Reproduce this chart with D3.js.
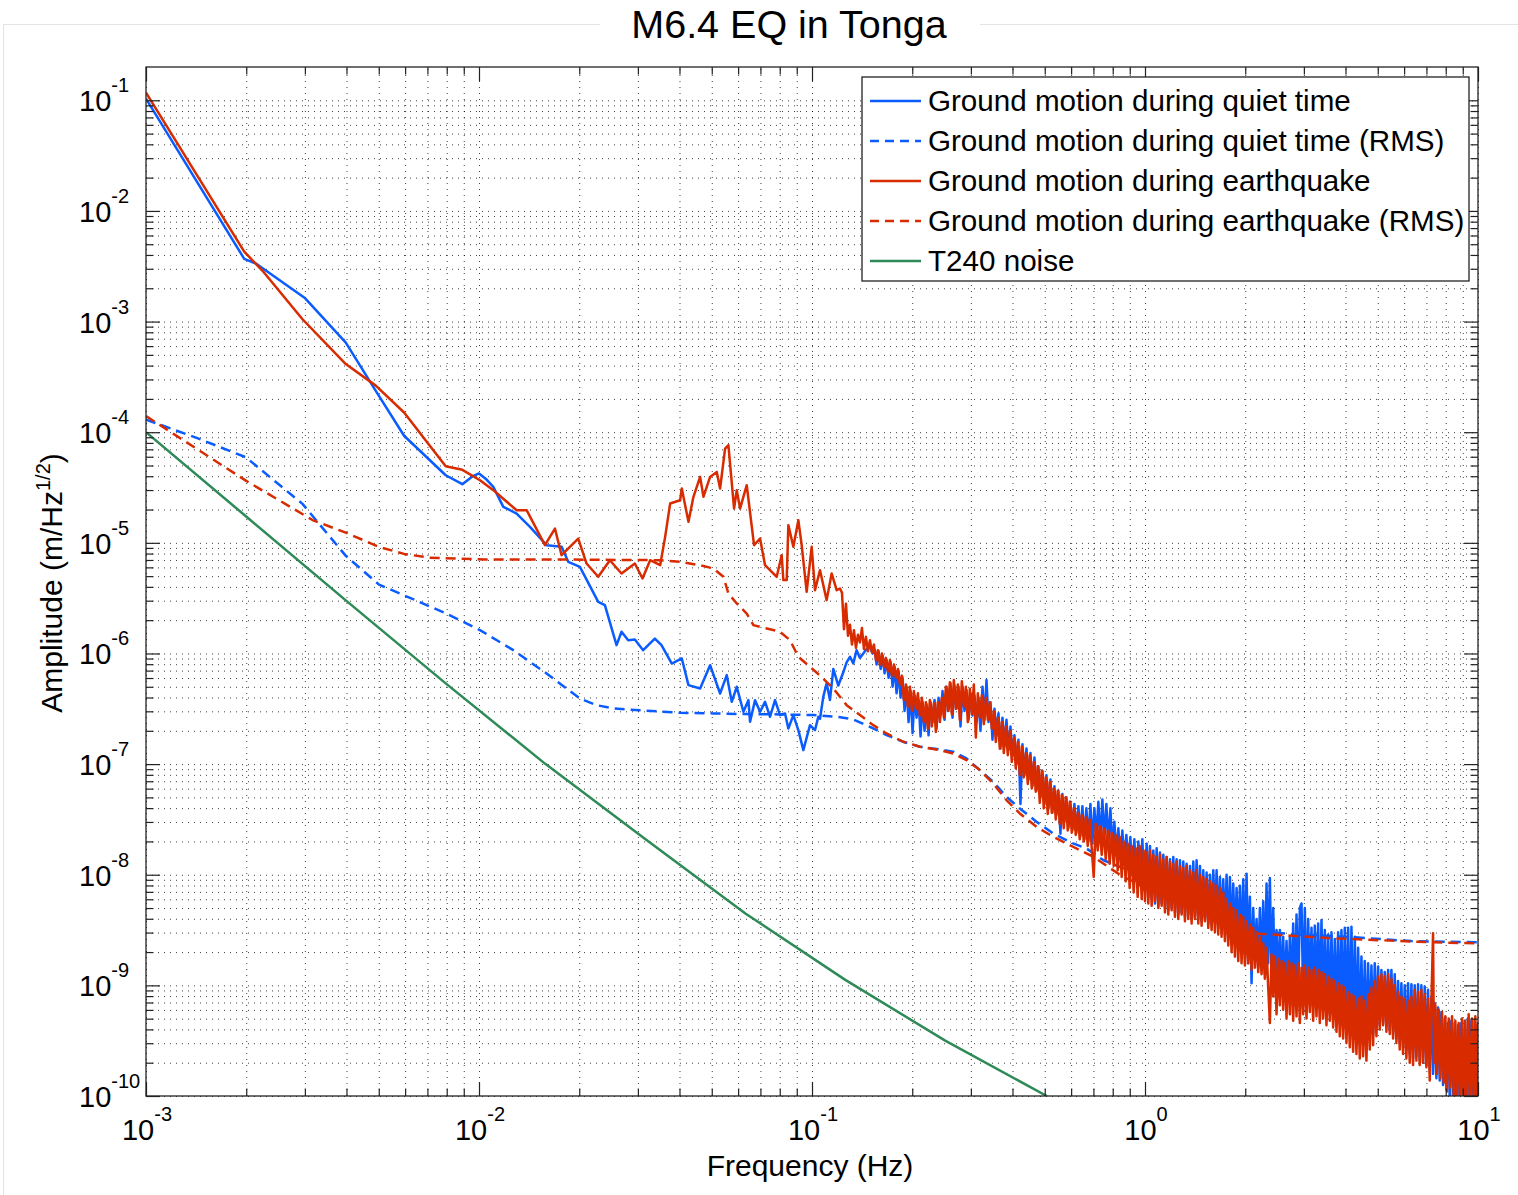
<!DOCTYPE html>
<html>
<head>
<meta charset="utf-8">
<script src="https://cdn.jsdelivr.net/npm/d3@7"></script>
<style>
  body { margin: 0; background: #fff; }
  text { font-family: "Liberation Sans", Arial, Helvetica, sans-serif; fill: #000; }
</style>
</head>
<body>
<svg id="chart" width="1518" height="1195"></svg>
<script>
// ---------------- DATA ----------------
// every series point is [log10(frequency in Hz), log10(amplitude in m/Hz^1/2)]
const titleText = "M6.4 EQ in Tonga";
const xLabelText = "Frequency (Hz)";
const yLabelText = "Amplitude (m/Hz";
const yLabelSup = "1/2";
const xTickExponents = [-3, -2, -1, 0, 1];
const yTickExponents = [-10, -9, -8, -7, -6, -5, -4, -3, -2, -1];
const legendLabels = [
  "Ground motion during quiet time",
  "Ground motion during quiet time (RMS)",
  "Ground motion during earthquake",
  "Ground motion during earthquake (RMS)",
  "T240 noise"
];

const quietMotion = [
  [-3.0,-0.985],[-2.705,-2.433],[-2.67,-2.476],[-2.524,-2.784],[-2.40,-3.19],[-2.31,-3.627],[-2.225,-4.032],
  [-2.10,-4.389],[-2.05,-4.47],[-2.02,-4.40],[-2.0,-4.373],[-1.98,-4.42],[-1.957,-4.494],[-1.927,-4.675],
  [-1.887,-4.735],[-1.847,-4.856],[-1.797,-5.021],[-1.752,-5.036],[-1.732,-5.172],[-1.697,-5.217],[-1.642,-5.533],
  [-1.622,-5.563],[-1.587,-5.925],[-1.572,-5.804],[-1.552,-5.880],[-1.532,-5.874],[-1.507,-5.970],[-1.472,-5.865],
  [-1.452,-5.925],[-1.421,-6.091],[-1.391,-6.045],[-1.371,-6.286],[-1.336,-6.316],[-1.306,-6.106],[-1.276,-6.362],
  [-1.256,-6.196],[-1.241,-6.437],[-1.226,-6.301],[-1.206,-6.527],[-1.191,-6.422],[-1.186,-6.618],[-1.171,-6.422],
  [-1.156,-6.527],[-1.141,-6.437],[-1.126,-6.572],[-1.111,-6.422],[-1.096,-6.557],[-1.081,-6.542],[-1.071,-6.678],
  [-1.056,-6.557],[-1.041,-6.693],[-1.026,-6.874],[-1.006,-6.648],[-0.991,-6.693],[-0.981,-6.572],[-0.976,-6.59],
  [-0.966,-6.39],[-0.956,-6.27],[-0.946,-6.42],[-0.936,-6.14],[-0.921,-6.29],[-0.906,-6.17],[-0.896,-6.08],
  [-0.886,-6.03],[-0.876,-6.09],[-0.866,-5.97],[-0.856,-6.04],[-0.846,-6.00],[-0.836,-5.96],[-0.826,-5.94],
  [-0.818,-6.00],[-0.811,-5.97],
  [-0.806,-6.10],[-0.800,-5.98],[-0.794,-6.14],[-0.788,-6.02],[-0.782,-6.18],[-0.776,-6.06],[-0.770,-6.22],
  [-0.764,-6.08],[-0.758,-6.30],[-0.752,-6.12],[-0.746,-6.36],[-0.740,-6.16],[-0.734,-6.40],[-0.728,-6.22],
  [-0.722,-6.52],[-0.716,-6.30],[-0.710,-6.62],[-0.704,-6.34],[-0.698,-6.72],[-0.692,-6.38],[-0.686,-6.58],
  [-0.680,-6.42],[-0.674,-6.75],[-0.668,-6.44],[-0.662,-6.70],[-0.656,-6.46],[-0.650,-6.74],[-0.644,-6.44],
  [-0.638,-6.62],[-0.632,-6.42],[-0.626,-6.68],[-0.620,-6.40],[-0.614,-6.56],[-0.608,-6.34],[-0.602,-6.60],
  [-0.596,-6.30],[-0.590,-6.52],[-0.584,-6.27],[-0.578,-6.58],[-0.572,-6.29],[-0.566,-6.50],[-0.560,-6.30],
  [-0.554,-6.66],[-0.548,-6.30],[-0.542,-6.52],[-0.536,-6.33],[-0.530,-6.60],[-0.524,-6.36],[-0.518,-6.56],
  [-0.512,-6.38],[-0.506,-6.62],[-0.500,-6.40],[-0.494,-6.70],[-0.488,-6.30],[-0.482,-6.60],[-0.476,-6.24],
  [-0.470,-6.62],[-0.464,-6.44],[-0.458,-6.78],[-0.452,-6.50],[-0.446,-6.72],[-0.440,-6.54],[-0.434,-6.86],
  [-0.428,-6.58],[-0.422,-6.84],[-0.416,-6.60],[-0.410,-6.87],[-0.404,-6.66],[-0.398,-6.92],[-0.392,-6.74],
  [-0.386,-7.00],[-0.380,-6.78],[-0.374,-7.36],[-0.368,-6.82],[-0.362,-7.10],[-0.356,-6.86],[-0.350,-7.14],
  [-0.344,-6.90],[-0.338,-7.20],[-0.332,-6.94],[-0.326,-7.24],[-0.320,-7.02],[-0.314,-7.30],[-0.308,-7.06],
  [-0.302,-7.36],[-0.296,-7.10],[-0.290,-7.40],[-0.284,-7.14],[-0.278,-7.44],[-0.272,-7.20],[-0.266,-7.46],
  [-0.260,-7.24],[-0.254,-7.63],[-0.248,-7.27],[-0.242,-7.52],[-0.236,-7.30],[-0.230,-7.58],[-0.224,-7.34],
  [-0.218,-7.60],[-0.212,-7.36],[-0.206,-7.62],[-0.200,-7.38],[-0.194,-7.65],[-0.188,-7.38],[-0.182,-7.68],
  [-0.176,-7.40],[-0.170,-7.70],[-0.164,-7.36],[-0.158,-7.72],[-0.152,-7.40],[-0.146,-7.66],[-0.140,-7.34],
  [-0.134,-7.70],[-0.128,-7.32],[-0.122,-7.68],[-0.116,-7.36],[-0.110,-7.72],[-0.104,-7.40],[-0.098,-7.75],
  [-0.092,-7.52],[-0.086,-7.82],[-0.080,-7.58],[-0.074,-7.86],[-0.068,-7.60],[-0.062,-7.88],[-0.056,-7.64],
  [-0.050,-7.92],[-0.044,-7.66],[-0.038,-8.00],[-0.032,-7.68],[-0.026,-8.06],[-0.020,-7.70],[-0.014,-8.10],
  [-0.008,-7.68],[-0.002,-8.14],[0.005,-7.72],[0.010,-8.20],[0.015,-7.74],[0.020,-8.22],[0.025,-7.78],
  [0.030,-8.26],[0.035,-7.76],[0.040,-8.28],[0.045,-7.80],[0.050,-8.26],[0.055,-7.82],[0.060,-8.30],
  [0.065,-7.84],[0.070,-8.32],[0.075,-7.86],[0.080,-8.30],[0.085,-7.84],[0.090,-8.34],[0.095,-7.86],
  [0.100,-8.36],[0.105,-7.87],[0.110,-8.34],[0.115,-7.88],[0.120,-8.38],[0.125,-7.90],[0.130,-8.36],
  [0.135,-7.92],[0.140,-8.40],[0.145,-7.88],[0.150,-8.38],[0.155,-7.87],[0.160,-8.40],[0.165,-7.92],
  [0.170,-8.42],[0.175,-7.96],[0.180,-8.40],[0.185,-7.98],[0.190,-8.44],[0.195,-8.00],[0.200,-8.46],
  [0.205,-7.96],[0.210,-8.44],[0.215,-7.96],[0.220,-8.48],[0.225,-8.02],[0.230,-8.50],[0.235,-8.04],
  [0.240,-8.54],[0.245,-8.00],[0.250,-8.56],[0.255,-8.02],[0.260,-8.60],[0.265,-8.08],[0.270,-8.62],
  [0.275,-8.12],[0.280,-8.66],[0.285,-8.10],[0.290,-8.70],[0.295,-8.04],[0.300,-8.72],[0.305,-7.99],
  [0.310,-8.80],[0.315,-8.20],[0.320,-8.98],[0.325,-8.30],[0.330,-8.76],[0.335,-8.40],[0.340,-8.84],
  [0.345,-8.30],[0.350,-8.86],[0.355,-8.24],[0.360,-8.90],[0.365,-8.08],[0.370,-8.80],[0.375,-8.03],
  [0.380,-8.92],[0.385,-8.30],[0.390,-8.96],[0.395,-8.50],[0.400,-9.00],[0.405,-8.50],[0.410,-9.02],
  [0.415,-8.56],[0.420,-9.06],[0.425,-8.60],[0.430,-9.10],[0.435,-8.56],[0.440,-9.08],[0.445,-8.44],
  [0.450,-9.12],[0.455,-8.36],[0.460,-9.10],[0.465,-8.30],[0.470,-8.26],[0.475,-9.14],[0.480,-8.30],
  [0.485,-9.16],[0.490,-8.40],[0.495,-9.14],[0.500,-8.48],[0.505,-9.18],[0.510,-8.46],[0.515,-9.16],
  [0.520,-8.44],[0.525,-9.20],[0.530,-8.41],[0.535,-9.22],[0.540,-8.50],[0.545,-9.24],[0.550,-8.54],
  [0.555,-9.26],[0.560,-8.52],[0.565,-9.28],[0.570,-8.58],[0.575,-9.30],[0.580,-8.52],[0.585,-9.34],
  [0.590,-8.50],[0.595,-9.36],[0.600,-8.48],[0.605,-9.38],[0.610,-8.48],[0.615,-9.40],[0.620,-8.47],
  [0.625,-9.44],[0.630,-8.56],[0.635,-9.46],[0.640,-8.66],[0.645,-9.48],[0.650,-8.74],[0.655,-9.50],
  [0.660,-8.78],[0.665,-9.52],[0.670,-8.80],[0.675,-9.48],[0.680,-8.82],[0.685,-9.44],[0.690,-8.80],
  [0.695,-9.40],[0.700,-8.83],[0.705,-9.36],[0.710,-8.86],[0.715,-9.34],[0.720,-8.88],[0.725,-9.38],
  [0.730,-8.86],[0.735,-9.40],[0.740,-8.86],[0.745,-9.44],[0.750,-8.90],[0.755,-9.48],[0.760,-8.96],
  [0.765,-9.52],[0.770,-8.98],[0.775,-9.56],[0.780,-9.00],[0.785,-9.58],[0.790,-8.98],[0.795,-9.62],
  [0.800,-8.99],[0.805,-9.66],[0.810,-9.00],[0.815,-9.64],[0.820,-8.99],[0.825,-9.68],[0.830,-9.00],
  [0.835,-9.70],[0.840,-9.01],[0.845,-9.72],[0.850,-9.04],[0.855,-9.76],[0.860,-9.10],[0.865,-9.80],
  [0.870,-9.16],[0.875,-9.84],[0.880,-9.20],[0.885,-9.86],[0.890,-9.24],[0.895,-9.90],[0.900,-9.30],
  [0.905,-9.94],[0.910,-9.34],[0.915,-10.0],[0.920,-9.32],[0.925,-10.05],[0.930,-9.34],[0.935,-10.1],
  [0.940,-9.36],[0.945,-10.1],[0.950,-9.34],[0.955,-10.1],[0.960,-9.32],[0.965,-10.1],[0.970,-9.30],
  [0.975,-10.1],[0.980,-9.32],[0.985,-10.1],[0.990,-9.31],[0.995,-10.1],[1.000,-9.33]
];

const quietRms = [
  [-3.0,-3.886],[-2.85,-4.049],[-2.70,-4.227],[-2.53,-4.648],[-2.40,-5.118],[-2.30,-5.378],[-2.20,-5.507],
  [-2.10,-5.637],[-1.997,-5.789],[-1.897,-5.970],[-1.797,-6.181],[-1.697,-6.407],[-1.647,-6.467],[-1.597,-6.497],
  [-1.497,-6.518],[-1.396,-6.536],[-1.296,-6.542],[-1.196,-6.548],[-1.096,-6.551],[-0.996,-6.557],[-0.926,-6.572],
  [-0.876,-6.596],[-0.826,-6.663],[-0.776,-6.738],[-0.726,-6.798],[-0.676,-6.843],[-0.616,-6.867],[-0.576,-6.888],
  [-0.536,-6.949],[-0.496,-7.054],[-0.456,-7.160],[-0.416,-7.295],[-0.376,-7.401],[-0.326,-7.521],[-0.276,-7.627],
  [-0.216,-7.717],[-0.176,-7.762],[-0.126,-7.867],[-0.076,-7.928],[0.1,-8.2],[0.3,-8.5],[0.45,-8.54],
  [0.6,-8.56],[0.8,-8.60],[1.0,-8.61]
];

const quakeMotion = [
  [-3.0,-0.93],[-2.705,-2.368],[-2.65,-2.541],[-2.53,-2.979],[-2.40,-3.384],[-2.31,-3.579],[-2.225,-3.822],
  [-2.10,-4.308],[-2.05,-4.34],[-1.997,-4.434],[-1.957,-4.524],[-1.887,-4.705],[-1.857,-4.705],[-1.802,-5.021],
  [-1.772,-4.871],[-1.752,-5.112],[-1.702,-4.961],[-1.677,-5.187],[-1.642,-5.307],[-1.607,-5.157],[-1.572,-5.277],
  [-1.532,-5.187],[-1.509,-5.322],[-1.486,-5.157],[-1.456,-5.202],[-1.441,-4.946],[-1.426,-4.645],[-1.396,-4.615],
  [-1.391,-4.509],[-1.371,-4.810],[-1.356,-4.584],[-1.336,-4.404],[-1.326,-4.584],[-1.306,-4.404],[-1.286,-4.359],
  [-1.276,-4.509],[-1.261,-4.148],[-1.251,-4.118],[-1.234,-4.690],[-1.226,-4.524],[-1.216,-4.690],[-1.196,-4.479],
  [-1.174,-5.021],[-1.156,-4.961],[-1.141,-5.202],[-1.106,-5.307],[-1.091,-5.112],[-1.086,-5.337],[-1.076,-5.337],
  [-1.071,-4.840],[-1.056,-5.036],[-1.041,-4.795],[-1.031,-5.021],[-1.016,-5.443],[-1.001,-5.036],[-0.991,-5.428],
  [-0.976,-5.247],[-0.956,-5.518],[-0.941,-5.277],[-0.926,-5.428],[-0.916,-5.413],
  [-0.910,-5.45],[-0.904,-5.78],[-0.898,-5.55],[-0.892,-5.84],[-0.886,-5.74],[-0.880,-5.92],[-0.874,-5.79],
  [-0.868,-5.95],[-0.862,-5.83],[-0.856,-5.90],[-0.850,-5.77],[-0.844,-5.96],[-0.838,-5.85],[-0.832,-5.98],
  [-0.826,-5.88],[-0.820,-5.99],[-0.814,-5.92],[-0.808,-6.06],[-0.802,-5.97],[-0.796,-6.10],[-0.790,-6.00],
  [-0.784,-6.12],[-0.778,-6.04],[-0.772,-6.16],[-0.766,-6.06],[-0.760,-6.20],[-0.754,-6.10],[-0.748,-6.22],
  [-0.742,-6.14],[-0.736,-6.28],[-0.730,-6.20],[-0.724,-6.42],[-0.718,-6.28],[-0.712,-6.48],[-0.706,-6.30],
  [-0.700,-6.52],[-0.694,-6.34],[-0.688,-6.50],[-0.682,-6.36],[-0.676,-6.56],[-0.670,-6.40],[-0.664,-6.62],
  [-0.658,-6.44],[-0.652,-6.68],[-0.646,-6.42],[-0.640,-6.66],[-0.634,-6.45],[-0.628,-6.71],[-0.622,-6.44],
  [-0.616,-6.62],[-0.610,-6.40],[-0.604,-6.58],[-0.598,-6.30],[-0.592,-6.52],[-0.586,-6.26],[-0.580,-6.55],
  [-0.574,-6.24],[-0.568,-6.50],[-0.562,-6.28],[-0.556,-6.60],[-0.550,-6.25],[-0.544,-6.48],[-0.538,-6.30],
  [-0.532,-6.62],[-0.526,-6.32],[-0.520,-6.55],[-0.514,-6.28],[-0.508,-6.76],[-0.502,-6.36],[-0.496,-6.58],
  [-0.490,-6.38],[-0.484,-6.64],[-0.478,-6.40],[-0.472,-6.60],[-0.466,-6.44],[-0.460,-6.68],[-0.454,-6.52],
  [-0.448,-6.80],[-0.442,-6.58],[-0.436,-6.86],[-0.430,-6.62],[-0.424,-6.90],[-0.418,-6.66],[-0.412,-6.92],
  [-0.406,-6.70],[-0.400,-6.98],[-0.394,-6.76],[-0.388,-7.04],[-0.382,-6.80],[-0.376,-7.10],[-0.370,-6.84],
  [-0.364,-7.12],[-0.358,-6.90],[-0.352,-7.18],[-0.346,-6.92],[-0.340,-7.22],[-0.334,-6.98],[-0.328,-7.25],
  [-0.322,-7.02],[-0.316,-7.35],[-0.310,-7.06],[-0.304,-7.40],[-0.298,-7.12],[-0.292,-7.45],[-0.286,-7.16],
  [-0.280,-7.44],[-0.274,-7.22],[-0.268,-7.50],[-0.262,-7.24],[-0.256,-7.54],[-0.250,-7.28],[-0.244,-7.58],
  [-0.238,-7.30],[-0.232,-7.60],[-0.226,-7.34],[-0.220,-7.62],[-0.214,-7.40],[-0.208,-7.64],[-0.202,-7.44],
  [-0.196,-7.68],[-0.190,-7.46],[-0.184,-7.70],[-0.178,-7.48],[-0.172,-7.74],[-0.166,-7.50],[-0.160,-7.76],
  [-0.154,-8.02],[-0.148,-7.54],[-0.142,-7.78],[-0.136,-7.56],[-0.130,-7.82],[-0.124,-7.58],[-0.118,-7.86],
  [-0.112,-7.60],[-0.106,-7.90],[-0.100,-7.62],[-0.094,-7.92],[-0.088,-7.64],[-0.082,-7.96],[-0.076,-7.66],
  [-0.070,-8.02],[-0.064,-7.70],[-0.058,-8.06],[-0.052,-7.72],[-0.046,-8.12],[-0.040,-7.74],[-0.034,-8.16],
  [-0.028,-7.76],[-0.022,-8.20],[-0.016,-7.74],[-0.010,-8.22],[-0.004,-7.78],
  [0.000,-8.24],[0.005,-7.80],[0.010,-8.26],[0.015,-7.78],[0.020,-8.28],[0.025,-7.82],[0.030,-8.24],
  [0.035,-7.84],[0.040,-8.30],[0.045,-7.82],[0.050,-8.28],[0.055,-7.86],[0.060,-8.34],[0.065,-7.84],
  [0.070,-8.36],[0.075,-7.88],[0.080,-8.32],[0.085,-7.90],[0.090,-8.38],[0.095,-7.88],[0.100,-8.40],
  [0.105,-7.92],[0.110,-8.36],[0.115,-7.94],[0.120,-8.42],[0.125,-7.92],[0.130,-8.40],[0.135,-7.96],
  [0.140,-8.44],[0.145,-7.98],[0.150,-8.40],[0.155,-7.96],[0.160,-8.44],[0.165,-8.00],[0.170,-8.46],
  [0.175,-8.02],[0.180,-8.42],[0.185,-8.04],[0.190,-8.48],[0.195,-8.06],[0.200,-8.50],[0.205,-8.08],
  [0.210,-8.52],[0.215,-8.10],[0.220,-8.54],[0.225,-8.12],[0.230,-8.56],[0.235,-8.16],[0.240,-8.60],
  [0.245,-8.22],[0.250,-8.64],[0.255,-8.26],[0.260,-8.70],[0.265,-8.30],[0.270,-8.74],[0.275,-8.32],
  [0.280,-8.78],[0.285,-8.36],[0.290,-8.80],[0.295,-8.38],[0.300,-8.82],[0.305,-8.42],[0.310,-8.80],
  [0.315,-8.45],[0.320,-8.86],[0.325,-8.48],[0.330,-8.84],[0.335,-8.52],[0.340,-8.88],[0.345,-8.56],
  [0.350,-8.90],[0.355,-8.62],[0.360,-8.94],[0.365,-8.66],[0.370,-9.02],[0.375,-9.34],[0.380,-8.72],
  [0.385,-9.10],[0.390,-8.74],[0.395,-9.26],[0.400,-8.76],[0.405,-9.18],[0.410,-8.78],[0.415,-9.22],
  [0.420,-8.80],[0.425,-9.30],[0.430,-8.78],[0.435,-9.26],[0.440,-8.80],[0.445,-9.32],[0.450,-8.82],
  [0.455,-9.28],[0.460,-8.80],[0.465,-9.34],[0.470,-8.84],[0.475,-9.26],[0.480,-8.82],[0.485,-9.30],
  [0.490,-8.84],[0.495,-9.24],[0.500,-8.86],[0.505,-9.32],[0.510,-8.84],[0.515,-9.28],[0.520,-8.86],
  [0.525,-9.34],[0.530,-8.88],[0.535,-9.30],[0.540,-8.90],[0.545,-9.36],[0.550,-8.92],[0.555,-9.32],
  [0.560,-8.94],[0.565,-9.38],[0.570,-8.96],[0.575,-9.42],[0.580,-8.98],[0.585,-9.46],[0.590,-9.00],
  [0.595,-9.48],[0.600,-9.02],[0.605,-9.52],[0.610,-9.06],[0.615,-9.56],[0.620,-9.08],[0.625,-9.60],
  [0.630,-9.10],[0.635,-9.62],[0.640,-9.12],[0.645,-9.66],[0.650,-9.10],[0.655,-9.64],[0.660,-9.14],
  [0.665,-9.68],[0.670,-9.08],[0.675,-9.58],[0.680,-9.02],[0.685,-9.54],[0.690,-8.96],[0.695,-9.46],
  [0.700,-8.92],[0.705,-9.40],[0.710,-8.90],[0.715,-9.36],[0.720,-8.92],[0.725,-9.42],[0.730,-8.90],
  [0.735,-9.44],[0.740,-8.94],[0.745,-9.48],[0.750,-9.00],[0.755,-9.52],[0.760,-9.06],[0.765,-9.58],
  [0.770,-9.10],[0.775,-9.62],[0.780,-9.12],[0.785,-9.66],[0.790,-9.14],[0.795,-9.70],[0.800,-9.10],
  [0.805,-9.72],[0.810,-9.04],[0.815,-9.68],[0.820,-9.06],[0.825,-9.72],[0.830,-9.04],[0.835,-9.70],
  [0.840,-9.08],[0.845,-9.74],[0.850,-9.12],[0.855,-9.86],[0.860,-9.16],[0.865,-8.53],[0.868,-9.70],
  [0.872,-9.18],[0.877,-9.80],[0.882,-9.22],[0.887,-9.84],[0.892,-9.24],[0.897,-9.88],[0.902,-9.28],
  [0.907,-9.96],[0.912,-9.30],[0.917,-9.92],[0.922,-9.28],[0.927,-10.0],[0.932,-9.32],[0.937,-10.05],
  [0.942,-9.34],[0.947,-10.02],[0.952,-9.30],[0.957,-10.08],[0.962,-9.32],[0.967,-10.05],[0.972,-9.26],
  [0.977,-10.1],[0.982,-9.30],[0.987,-10.05],[0.992,-9.28],[0.997,-10.1],[1.000,-9.35]
];

const quakeRms = [
  [-3.0,-3.854],[-2.85,-4.146],[-2.70,-4.438],[-2.50,-4.794],[-2.40,-4.908],[-2.30,-5.037],[-2.225,-5.10],
  [-2.15,-5.134],[-1.98,-5.15],[-1.727,-5.151],[-1.456,-5.157],[-1.396,-5.172],[-1.336,-5.202],[-1.296,-5.232],
  [-1.266,-5.307],[-1.251,-5.458],[-1.226,-5.548],[-1.196,-5.639],[-1.176,-5.744],[-1.136,-5.774],[-1.096,-5.804],
  [-1.066,-5.880],[-1.041,-6.030],[-1.006,-6.121],[-0.976,-6.20],[-0.936,-6.316],[-0.896,-6.467],[-0.856,-6.557],
  [-0.816,-6.648],[-0.776,-6.723],[-0.726,-6.798],[-0.676,-6.843],[-0.616,-6.873],[-0.576,-6.904],[-0.536,-6.964],
  [-0.496,-7.054],[-0.456,-7.175],[-0.416,-7.325],[-0.376,-7.446],[-0.326,-7.566],[-0.276,-7.657],[-0.216,-7.747],
  [-0.156,-7.837],[-0.096,-7.958],[-0.066,-8.018],[0.1,-8.25],[0.25,-8.48],[0.326,-8.53],[0.566,-8.575],
  [0.866,-8.611],[1.0,-8.62]
];

const t240Noise = [
  [-3.0,-4.0],[-2.7,-4.76],[-2.4,-5.52],[-2.1,-6.27],[-1.8,-7.0],[-1.5,-7.68],[-1.2,-8.35],
  [-0.9,-8.95],[-0.6,-9.5],[-0.295,-10.0]
];

// ---------------- CHART ----------------
const svg = d3.select("#chart");
const L = 146, R = 1478, T = 67, B = 1096;
const x = d3.scaleLog().domain([1e-3, 10]).range([L, R]);
const y = d3.scaleLog().domain([1e-10, 0.2]).range([B, T]);

const minorVals = (exps, maxV) => {
  const out = [];
  exps.forEach(e => { for (let m = 2; m <= 9; m++) { const v = m * 10 ** e; if (v < maxV * 0.999) out.push(v); } });
  return out;
};
const xMajor = xTickExponents.map(e => 10 ** e);
const yMajor = yTickExponents.map(e => 10 ** e);
const xMinor = minorVals(xTickExponents.slice(0, -1), 10);
const yMinor = minorVals(yTickExponents, 0.2);

svg.append("rect").attr("x", 0).attr("y", 0).attr("width", 1518).attr("height", 1195).attr("fill", "#fff");
// faint figure-window border
svg.append("rect").attr("x", 3.5).attr("y", 24.5).attr("width", 1520).attr("height", 1180)
  .attr("fill", "none").attr("stroke", "#e4e4e4").attr("stroke-width", 1);

// grid (dotted)
const gridStyle = g => {
  g.select(".domain").remove();
  g.selectAll("line").attr("stroke", "#000").attr("stroke-width", 1)
    .attr("stroke-dasharray", "1,5").attr("stroke-opacity", 0.75);
};
svg.append("g").attr("transform", `translate(0,${B})`)
  .call(d3.axisBottom(x).tickValues(xMajor.concat(xMinor)).tickSize(-(B - T)).tickFormat(""))
  .call(gridStyle);
svg.append("g").attr("transform", `translate(${L},0)`)
  .call(d3.axisLeft(y).tickValues(yMajor.concat(yMinor)).tickSize(-(R - L)).tickFormat(""))
  .call(gridStyle);

// clip
svg.append("clipPath").attr("id", "plotclip").append("rect")
  .attr("x", L).attr("y", T).attr("width", R - L).attr("height", B - T);

const line = d3.line().x(d => x(10 ** d[0])).y(d => y(10 ** d[1]));
const series = [
  { data: quietMotion, color: "#0b5cff", dash: null },
  { data: quietRms, color: "#0b5cff", dash: "10,6" },
  { data: quakeMotion, color: "#d92b00", dash: null },
  { data: quakeRms, color: "#d92b00", dash: "10,6" },
  { data: t240Noise, color: "#2e8b57", dash: null }
];
const plotG = svg.append("g").attr("clip-path", "url(#plotclip)");
series.forEach(s => {
  plotG.append("path").datum(s.data).attr("d", line)
    .attr("fill", "none").attr("stroke", s.color).attr("stroke-width", 2.5)
    .attr("stroke-linejoin", "round")
    .attr("stroke-dasharray", s.dash);
});

// ticks (inward) on all four sides
const tickStyle = g => { g.select(".domain").remove(); g.selectAll("line").attr("stroke", "#222").attr("stroke-width", 1.2); };
svg.append("g").attr("transform", `translate(0,${B})`).call(d3.axisBottom(x).tickValues(xMajor).tickSize(-14).tickFormat("")).call(tickStyle);
svg.append("g").attr("transform", `translate(0,${B})`).call(d3.axisBottom(x).tickValues(xMinor).tickSize(-7.5).tickFormat("")).call(tickStyle);
svg.append("g").attr("transform", `translate(0,${T})`).call(d3.axisTop(x).tickValues(xMajor).tickSize(-14).tickFormat("")).call(tickStyle);
svg.append("g").attr("transform", `translate(0,${T})`).call(d3.axisTop(x).tickValues(xMinor).tickSize(-7.5).tickFormat("")).call(tickStyle);
svg.append("g").attr("transform", `translate(${L},0)`).call(d3.axisLeft(y).tickValues(yMajor).tickSize(-14).tickFormat("")).call(tickStyle);
svg.append("g").attr("transform", `translate(${L},0)`).call(d3.axisLeft(y).tickValues(yMinor).tickSize(-7.5).tickFormat("")).call(tickStyle);
svg.append("g").attr("transform", `translate(${R},0)`).call(d3.axisRight(y).tickValues(yMajor).tickSize(-14).tickFormat("")).call(tickStyle);
svg.append("g").attr("transform", `translate(${R},0)`).call(d3.axisRight(y).tickValues(yMinor).tickSize(-7.5).tickFormat("")).call(tickStyle);

// box
svg.append("rect").attr("x", L).attr("y", T).attr("width", R - L).attr("height", B - T)
  .attr("fill", "none").attr("stroke", "#222").attr("stroke-width", 1.3);

// tick labels
const supLabel = (sel, e) => {
  sel.append("tspan").text("10");
  sel.append("tspan").attr("dy", -19).attr("font-size", 20).text(String(e));
};
xTickExponents.forEach(e => {
  const t = svg.append("text").attr("x", x(10 ** e) + 1).attr("y", 1140)
    .attr("text-anchor", "middle").attr("font-size", 29);
  supLabel(t, e);
});
yTickExponents.forEach(e => {
  const t = svg.append("text").attr("x", 79).attr("y", y(10 ** e) + 11)
    .attr("text-anchor", "start").attr("font-size", 29);
  supLabel(t, e);
});

// axis labels and title
svg.append("text").attr("x", 810).attr("y", 1176).attr("text-anchor", "middle")
  .attr("font-size", 30).text(xLabelText);
const yl = svg.append("text").attr("transform", "translate(62,583) rotate(-90)")
  .attr("text-anchor", "middle").attr("font-size", 30);
yl.append("tspan").text(yLabelText);
yl.append("tspan").attr("dy", -12).attr("font-size", 20).text(yLabelSup);
yl.append("tspan").attr("dy", 12).text(")");
svg.append("rect").attr("x", 600).attr("y", 5).attr("width", 380).attr("height", 45).attr("fill", "#fff");
svg.append("text").attr("x", 789).attr("y", 38).attr("text-anchor", "middle")
  .attr("font-size", 39.5).text(titleText);

// legend
const lg = svg.append("g");
lg.append("rect").attr("x", 862).attr("y", 77).attr("width", 607).attr("height", 204)
  .attr("fill", "#fff").attr("stroke", "#222").attr("stroke-width", 1.3);
legendLabels.forEach((lab, i) => {
  const cy = 101 + i * 40;
  const s = series[i];
  lg.append("line").attr("x1", 870).attr("x2", 921).attr("y1", cy).attr("y2", cy)
    .attr("stroke", s.color).attr("stroke-width", 2.4).attr("stroke-dasharray", s.dash ? "9,6" : null);
  lg.append("text").attr("x", 928).attr("y", cy + 10).attr("font-size", 29.6).text(lab);
});
</script>
</body>
</html>
